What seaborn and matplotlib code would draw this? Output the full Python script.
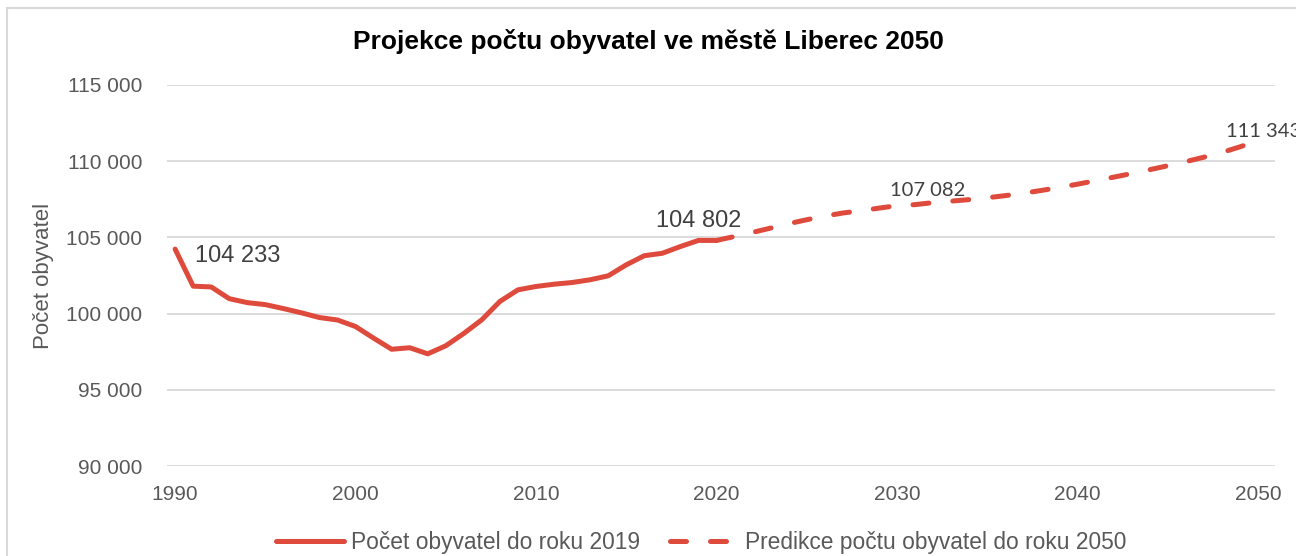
import numpy as np
import pandas as pd
import matplotlib
matplotlib.use("Agg")
import matplotlib.pyplot as plt
from matplotlib.patches import Rectangle
import seaborn as sns

# Data
hist_years = list(range(1990, 2021))
hist_values = [104233, 101800, 101750, 100980, 100720, 100590, 100330, 100050,
               99740, 99580, 99150, 98390, 97660, 97760, 97360, 97890, 98700,
               99600, 100800, 101560, 101780, 101930, 102040, 102220, 102480,
               103200, 103800, 103960, 104400, 104802, 104802]

pred_years = list(range(2020, 2051))
pred_values = [104802, 105060, 105330, 105610, 105900, 106160, 106400, 106600,
               106750, 106920, 107082, 107150, 107280, 107380, 107480, 107600,
               107740, 107900, 108080, 108280, 108490, 108720, 108950, 109190,
               109440, 109700, 109970, 110260, 110570, 110940, 111343]

hist_label = "Počet obyvatel do roku 2019"
pred_label = "Predikce počtu obyvatel do roku 2050"
y_ticks = [90000, 95000, 100000, 105000, 110000, 115000]
x_ticks = [1990, 2000, 2010, 2020, 2030, 2040, 2050]

hist_df = pd.DataFrame({"rok": hist_years, "obyvatel": hist_values})
pred_df = pd.DataFrame({"rok": pred_years, "obyvatel": pred_values})

sns.set_style("white")
plt.rcParams["font.family"] = ["Liberation Sans", "DejaVu Sans"]

red = "#DE4A3C"
grey_text = "#595959"

fig = plt.figure(figsize=(12.96, 5.56), dpi=100)
ax = fig.add_axes([167 / 1296, 1 - 466 / 556, (1275 - 167) / 1296, (466 - 85) / 556])

sns.lineplot(data=hist_df, x="rok", y="obyvatel", ax=ax, color=red, lw=3.6,
             label=hist_label, solid_capstyle="round")
sns.lineplot(data=pred_df, x="rok", y="obyvatel", ax=ax, color=red, lw=3.6,
             label=pred_label, linestyle=(0, (3.2, 4.8)), dash_capstyle="round")

ax.set_xlim(1989.55, 2050.95)
ax.set_ylim(90000, 115000)
ax.set_xticks(x_ticks)
ax.set_yticks(y_ticks)
ax.set_yticklabels([f"{v:,}".replace(",", " ") for v in y_ticks])
ax.tick_params(axis="both", length=0, labelsize=15, labelcolor=grey_text)
ax.tick_params(axis="x", pad=14)
ax.tick_params(axis="y", pad=18)
ax.grid(axis="y", color="#d9d9d9", lw=1.3)
ax.set_axisbelow(True)
for s in ax.spines.values():
    s.set_visible(False)

ax.set_xlabel("")
ax.set_ylabel("Počet obyvatel", fontsize=16, color=grey_text)
ax.yaxis.set_label_coords(-0.102, 0.5)

# data labels
def fmt(v):
    return f"{v:,}".replace(",", " ")

ax.annotate(fmt(hist_values[0]), (hist_years[0], hist_values[0]), xytext=(14, -5),
            textcoords="offset points", ha="left", va="center", fontsize=17,
            color="#404040")
ax.annotate(fmt(hist_values[29]), (hist_years[29], hist_values[29]), xytext=(0, 14),
            textcoords="offset points", ha="center", va="center", fontsize=17,
            color="#404040")
ax.annotate(fmt(pred_values[10]), (pred_years[10], pred_values[10]), xytext=(22, 11),
            textcoords="offset points", ha="center", va="center", fontsize=14.5,
            color="#404040", family=["Lato", "DejaVu Sans"], annotation_clip=False)
ax.annotate(fmt(pred_values[30]), (pred_years[30], pred_values[30]), xytext=(4, 7),
            textcoords="offset points", ha="center", va="center", fontsize=14.5,
            color="#404040", family=["Lato", "DejaVu Sans"], annotation_clip=False)

fig.suptitle("Projekce počtu obyvatel ve městě Liberec 2050", x=0.5, y=1 - 41 / 556,
             va="center", fontsize=19, fontweight="bold", color="black")

ax.legend(loc="center", bbox_to_anchor=(701 / 1296, 1 - 542 / 556),
          bbox_transform=fig.transFigure, ncol=2, frameon=False, fontsize=16.4,
          labelcolor=grey_text, handlelength=3.0, columnspacing=1.3,
          handletextpad=0.3)

fig.add_artist(Rectangle((7 / 1296, -0.2), 1.2, 1.2 - 8 / 556, fill=False,
                         ec="#d9d9d9", lw=1.5, transform=fig.transFigure))

fig.savefig("out.png", dpi=100)
